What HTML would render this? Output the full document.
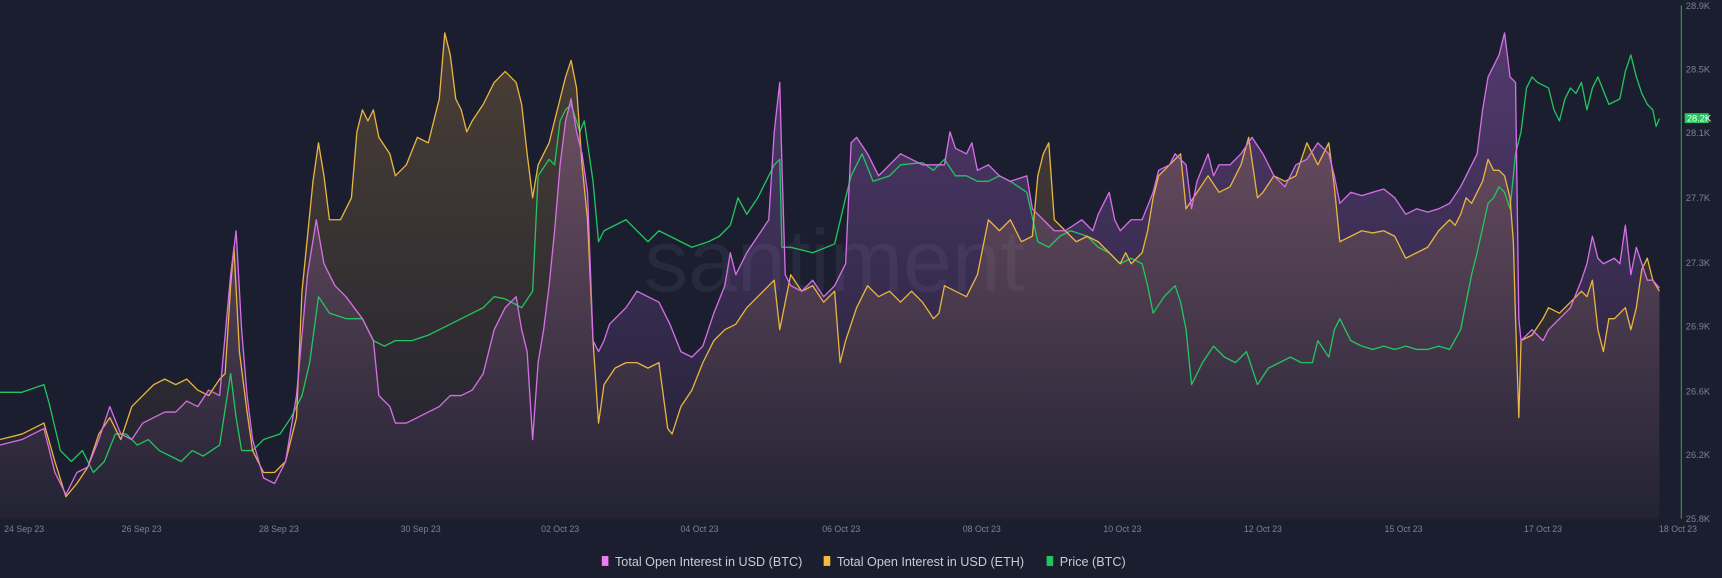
<!DOCTYPE html>
<html><head><meta charset="utf-8"><style>
html,body{margin:0;padding:0;background:#1b1e2f;}
svg{display:block;}
text{font-family:"Liberation Sans",sans-serif;}
</style></head><body>
<svg width="1722" height="578" viewBox="0 0 1568 526" preserveAspectRatio="none" xmlns="http://www.w3.org/2000/svg">
<defs>
<linearGradient id="gp" x1="0" y1="0" x2="0" y2="1"><stop offset="0" stop-color="#c070e8" stop-opacity="0.34"/><stop offset="1" stop-color="#c070e8" stop-opacity="0.02"/></linearGradient>
<linearGradient id="go" x1="0" y1="0" x2="0" y2="1"><stop offset="0" stop-color="#e0a84a" stop-opacity="0.24"/><stop offset="1" stop-color="#e0a84a" stop-opacity="0.02"/></linearGradient>
</defs>
<rect width="1568" height="526" fill="#1b1e2f"/>
<text x="760" y="265" font-size="80" fill="#262a3c" text-anchor="middle">santiment</text>
<g id="g">
<polygon fill="url(#gp)" points="0,472 0,405 20,400 40,390 50,430 60,450 70,430 80,425 90,400 100,370 110,395 120,400 130,385 140,380 150,375 160,375 170,365 180,370 190,355 200,360 210,250 215,210 220,300 225,360 230,400 240,435 250,440 260,420 270,360 280,250 288,200 295,240 305,260 315,270 330,290 340,310 345,360 355,370 360,385 370,385 380,380 390,375 400,370 410,360 420,360 430,355 440,340 450,300 460,280 470,270 475,300 480,320 485,400 490,330 495,300 500,260 505,210 510,150 515,110 520,90 525,120 530,140 535,175 540,310 545,320 550,310 555,295 560,290 570,280 580,265 590,270 600,275 610,295 620,320 630,325 640,315 650,285 660,260 665,230 670,250 680,230 690,215 700,200 705,120 710,75 712,150 715,250 720,260 730,265 740,255 750,270 760,260 770,240 775,130 780,125 790,140 800,160 810,150 820,140 830,145 840,150 850,150 860,150 865,120 870,135 880,140 885,130 890,155 900,150 910,160 920,165 935,160 940,190 950,200 960,210 970,210 985,200 995,210 1000,195 1010,175 1015,200 1020,210 1030,200 1040,200 1050,175 1055,155 1065,150 1070,140 1080,150 1085,190 1090,165 1100,140 1105,160 1110,150 1120,150 1130,140 1140,125 1150,140 1160,160 1170,170 1180,150 1190,145 1200,130 1210,140 1215,160 1220,185 1230,175 1240,178 1250,175 1260,172 1270,180 1280,195 1290,190 1300,193 1310,190 1320,185 1330,170 1335,160 1345,140 1350,100 1355,70 1360,60 1365,50 1370,30 1375,70 1380,75 1383,290 1385,310 1395,300 1405,310 1410,300 1420,290 1430,280 1440,255 1445,240 1450,215 1455,235 1460,240 1470,235 1475,240 1480,205 1485,250 1490,225 1495,240 1500,255 1505,255 1511,262 1511,472"/>
<polygon fill="url(#go)" points="0,472 0,400 20,395 40,385 50,420 60,452 70,440 80,425 90,395 100,380 110,400 120,370 130,360 140,350 150,345 160,350 170,345 180,355 190,360 200,345 205,340 210,260 213,225 218,320 225,375 230,410 240,430 250,430 260,420 270,380 275,265 285,165 290,130 295,160 300,200 310,200 320,180 325,120 330,100 335,110 340,100 345,125 355,140 360,160 370,150 380,125 390,130 400,90 405,30 410,50 415,90 420,100 425,120 430,110 440,95 450,75 460,65 470,75 475,95 480,140 485,180 490,150 500,130 510,90 515,70 520,55 525,80 530,150 535,200 540,310 545,385 550,350 560,335 570,330 580,330 590,335 600,330 608,390 612,395 620,370 630,355 640,330 650,310 660,300 670,295 680,280 690,270 700,260 705,255 710,300 720,250 730,265 740,260 750,275 760,265 765,330 770,310 780,280 790,260 800,270 810,265 820,275 830,265 840,275 850,290 855,285 860,260 870,265 880,270 890,250 900,200 910,210 920,200 930,220 940,215 945,160 950,140 955,130 960,200 970,210 980,220 990,215 1000,220 1010,230 1020,240 1025,230 1030,240 1040,230 1045,210 1050,180 1055,160 1065,150 1075,140 1080,190 1090,175 1100,160 1110,175 1120,170 1130,150 1137,125 1145,180 1150,175 1160,160 1170,165 1180,160 1190,130 1200,150 1210,130 1215,170 1220,220 1230,215 1240,210 1250,212 1260,210 1270,215 1280,235 1290,230 1300,225 1310,210 1320,200 1325,205 1330,195 1335,180 1340,185 1345,175 1350,165 1355,145 1360,155 1365,155 1370,160 1375,180 1378,220 1380,290 1383,380 1385,310 1395,305 1405,290 1410,280 1420,285 1430,275 1440,265 1445,270 1450,255 1455,300 1460,320 1465,290 1470,290 1480,280 1485,300 1490,280 1495,245 1500,235 1505,255 1511,265 1511,472"/>
<polyline fill="none" stroke="#22c55e" stroke-width="1.2" stroke-linejoin="round" points="0,357 20,357 40,350 45,368 55,410 65,420 75,410 85,430 95,420 105,395 115,395 125,405 135,400 145,410 155,415 165,420 175,410 185,415 200,405 210,340 215,380 220,410 230,410 240,400 255,395 265,380 275,360 282,330 290,270 300,285 315,290 330,290 340,310 350,315 360,310 375,310 390,305 400,300 410,295 420,290 430,285 440,280 450,270 460,272 475,280 485,265 490,160 500,145 505,150 510,110 515,100 520,95 528,120 532,110 540,165 545,220 550,210 560,205 570,200 580,210 590,220 600,210 610,215 620,220 630,225 645,220 655,215 665,205 672,180 680,195 690,180 700,160 705,150 710,145 712,225 720,225 740,230 760,222 770,180 775,160 785,140 795,165 810,160 820,150 840,148 850,155 860,145 870,160 880,160 890,165 900,165 910,160 920,165 935,175 945,220 955,225 965,215 975,210 990,215 1000,225 1010,230 1020,240 1030,235 1040,240 1045,260 1050,285 1060,270 1070,260 1075,275 1080,300 1085,350 1095,330 1105,315 1115,325 1125,330 1135,320 1145,350 1155,335 1165,330 1175,325 1185,330 1195,330 1200,310 1210,325 1215,300 1220,290 1230,310 1240,315 1250,318 1260,315 1270,318 1280,315 1290,318 1300,318 1310,315 1320,318 1330,300 1335,275 1340,250 1345,230 1355,185 1360,180 1365,170 1370,175 1375,190 1380,140 1385,120 1390,80 1395,70 1400,75 1410,80 1415,100 1420,110 1425,90 1430,80 1435,85 1440,75 1445,100 1450,80 1455,70 1465,95 1475,90 1480,65 1485,50 1490,70 1495,85 1500,95 1505,100 1508,115 1511,108"/>
</g>
<polyline fill="none" stroke="#e9b440" stroke-width="1.2" stroke-linejoin="round" points="0,400 20,395 40,385 50,420 60,452 70,440 80,425 90,395 100,380 110,400 120,370 130,360 140,350 150,345 160,350 170,345 180,355 190,360 200,345 205,340 210,260 213,225 218,320 225,375 230,410 240,430 250,430 260,420 270,380 275,265 285,165 290,130 295,160 300,200 310,200 320,180 325,120 330,100 335,110 340,100 345,125 355,140 360,160 370,150 380,125 390,130 400,90 405,30 410,50 415,90 420,100 425,120 430,110 440,95 450,75 460,65 470,75 475,95 480,140 485,180 490,150 500,130 510,90 515,70 520,55 525,80 530,150 535,200 540,310 545,385 550,350 560,335 570,330 580,330 590,335 600,330 608,390 612,395 620,370 630,355 640,330 650,310 660,300 670,295 680,280 690,270 700,260 705,255 710,300 720,250 730,265 740,260 750,275 760,265 765,330 770,310 780,280 790,260 800,270 810,265 820,275 830,265 840,275 850,290 855,285 860,260 870,265 880,270 890,250 900,200 910,210 920,200 930,220 940,215 945,160 950,140 955,130 960,200 970,210 980,220 990,215 1000,220 1010,230 1020,240 1025,230 1030,240 1040,230 1045,210 1050,180 1055,160 1065,150 1075,140 1080,190 1090,175 1100,160 1110,175 1120,170 1130,150 1137,125 1145,180 1150,175 1160,160 1170,165 1180,160 1190,130 1200,150 1210,130 1215,170 1220,220 1230,215 1240,210 1250,212 1260,210 1270,215 1280,235 1290,230 1300,225 1310,210 1320,200 1325,205 1330,195 1335,180 1340,185 1345,175 1350,165 1355,145 1360,155 1365,155 1370,160 1375,180 1378,220 1380,290 1383,380 1385,310 1395,305 1405,290 1410,280 1420,285 1430,275 1440,265 1445,270 1450,255 1455,300 1460,320 1465,290 1470,290 1480,280 1485,300 1490,280 1495,245 1500,235 1505,255 1511,265"/>
<polyline fill="none" stroke="#d66fe6" stroke-width="1.2" stroke-linejoin="round" points="0,405 20,400 40,390 50,430 60,450 70,430 80,425 90,400 100,370 110,395 120,400 130,385 140,380 150,375 160,375 170,365 180,370 190,355 200,360 210,250 215,210 220,300 225,360 230,400 240,435 250,440 260,420 270,360 280,250 288,200 295,240 305,260 315,270 330,290 340,310 345,360 355,370 360,385 370,385 380,380 390,375 400,370 410,360 420,360 430,355 440,340 450,300 460,280 470,270 475,300 480,320 485,400 490,330 495,300 500,260 505,210 510,150 515,110 520,90 525,120 530,140 535,175 540,310 545,320 550,310 555,295 560,290 570,280 580,265 590,270 600,275 610,295 620,320 630,325 640,315 650,285 660,260 665,230 670,250 680,230 690,215 700,200 705,120 710,75 712,150 715,250 720,260 730,265 740,255 750,270 760,260 770,240 775,130 780,125 790,140 800,160 810,150 820,140 830,145 840,150 850,150 860,150 865,120 870,135 880,140 885,130 890,155 900,150 910,160 920,165 935,160 940,190 950,200 960,210 970,210 985,200 995,210 1000,195 1010,175 1015,200 1020,210 1030,200 1040,200 1050,175 1055,155 1065,150 1070,140 1080,150 1085,190 1090,165 1100,140 1105,160 1110,150 1120,150 1130,140 1140,125 1150,140 1160,160 1170,170 1180,150 1190,145 1200,130 1210,140 1215,160 1220,185 1230,175 1240,178 1250,175 1260,172 1270,180 1280,195 1290,190 1300,193 1310,190 1320,185 1330,170 1335,160 1345,140 1350,100 1355,70 1360,60 1365,50 1370,30 1375,70 1380,75 1383,290 1385,310 1395,300 1405,310 1410,300 1420,290 1430,280 1440,255 1445,240 1450,215 1455,235 1460,240 1470,235 1475,240 1480,205 1485,250 1490,225 1495,240 1500,255 1505,255 1511,262"/>
<line x1="1531" y1="5" x2="1531" y2="472" stroke="#2e8b45" stroke-width="1.2"/>
<g font-size="8.5" fill="#7b8096">
<text x="1535" y="8">28.9K</text><text x="1535" y="66">28.5K</text><text x="1535" y="124">28.1K</text><text x="1535" y="183">27.7K</text><text x="1535" y="242">27.3K</text><text x="1535" y="300">26.9K</text><text x="1535" y="359">26.6K</text><text x="1535" y="417">26.2K</text><text x="1535" y="475">25.8K</text>
</g>
<rect x="1534" y="103" width="22" height="9" fill="#22c55e"/>
<text x="1536" y="110.5" font-size="8.5" fill="#fff">28.2K</text>
<g font-size="8" fill="#7b8096" text-anchor="middle">
<text x="22" y="484">24 Sep 23</text><text x="129" y="484">26 Sep 23</text><text x="254" y="484">28 Sep 23</text><text x="383" y="484">30 Sep 23</text><text x="510" y="484">02 Oct 23</text><text x="637" y="484">04 Oct 23</text><text x="766" y="484">06 Oct 23</text><text x="894" y="484">08 Oct 23</text><text x="1022" y="484">10 Oct 23</text><text x="1150" y="484">12 Oct 23</text><text x="1278" y="484">15 Oct 23</text><text x="1405" y="484">17 Oct 23</text><text x="1528" y="484">18 Oct 23</text>
</g>
<g font-size="11.5" fill="#c8ccd8">
<rect x="548" y="506" width="6" height="9" fill="#ef7cf2"/><text x="560" y="515">Total Open Interest in USD (BTC)</text>
<rect x="750" y="506" width="6" height="9" fill="#f5bd3a"/><text x="762" y="515">Total Open Interest in USD (ETH)</text>
<rect x="953" y="506" width="6" height="9" fill="#22c55e"/><text x="965" y="515">Price (BTC)</text>
</g>
</svg>
</body></html>
